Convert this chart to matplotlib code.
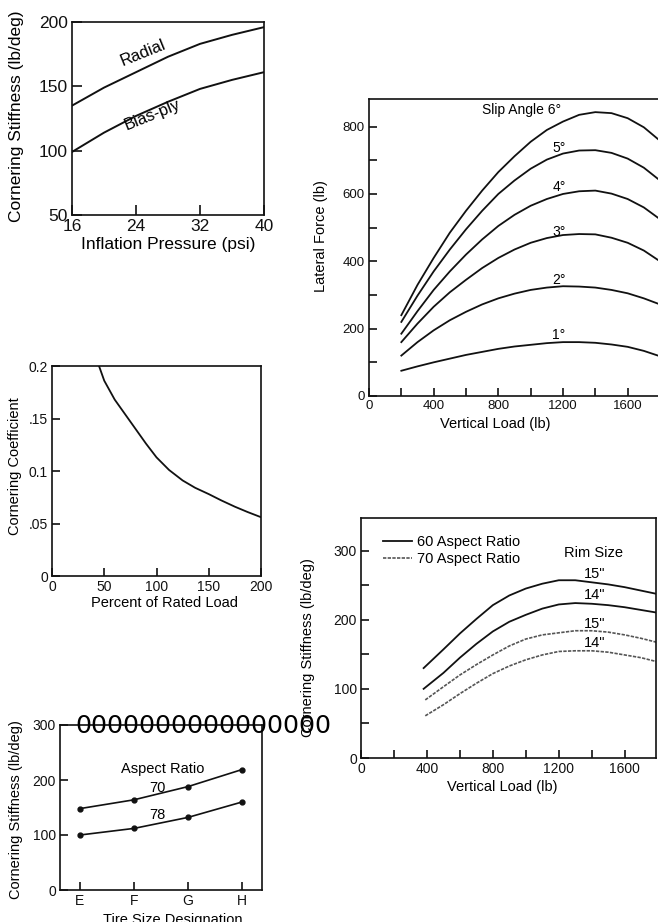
import numpy as np
import matplotlib.pyplot as plt
from matplotlib.ticker import MultipleLocator

plt.rcParams['font.family'] = ['Liberation Sans', 'DejaVu Sans']

INK = '#111111'

# --- panel 1: cornering stiffness vs inflation pressure
pressure = [16, 20, 24, 28, 32, 36, 40]
radial = [135, 149, 161, 173, 183, 190, 196]
bias_ply = [99, 114, 127, 138, 148, 155, 161]

# --- panel 2: lateral force vs vertical load, per slip angle
load_lf = [200, 300, 400, 500, 600, 700, 800, 900, 1000, 1100, 1200,
           1300, 1400, 1500, 1600, 1700, 1800]
slip_labels = ['1°', '2°', '3°', '4°', '5°', '6°']
lateral_force = [
    [75, 88, 100, 111, 122, 131, 140, 147, 152, 157, 160, 160, 158, 153, 146, 134, 118],
    [120, 160, 195, 225, 250, 272, 290, 304, 315, 322, 326, 325, 322, 315, 305, 290, 272],
    [160, 215, 265, 308, 345, 380, 410, 435, 455, 469, 478, 481, 480, 470, 455, 432, 400],
    [185, 252, 315, 370, 420, 465, 505, 538, 565, 585, 600, 608, 610, 601, 585, 560, 525],
    [220, 298, 370, 435, 495, 550, 600, 640, 675, 702, 720, 729, 730, 722, 705, 678, 640],
    [240, 330, 410, 485, 550, 610, 665, 712, 755, 790, 815, 835, 843, 840, 825, 798, 758],
]
slip_label_y = [181, 345, 488, 621, 737]

# --- panel 3: cornering coefficient vs percent rated load
pct_load = [45, 50, 55, 60, 70, 80, 90, 100, 112, 125, 137, 150, 162, 175, 187, 200]
corner_coef = [0.2, 0.186, 0.177, 0.168, 0.154, 0.140, 0.126, 0.113, 0.101,
               0.091, 0.084, 0.078, 0.072, 0.066, 0.061, 0.056]

# --- panel 4: cornering stiffness vs vertical load, aspect ratio / rim size
load_cs60 = [380, 500, 600, 700, 800, 900, 1000, 1100, 1200, 1300, 1400, 1500, 1600, 1700, 1800]
load_cs70 = [390, 500, 600, 700, 800, 900, 1000, 1100, 1200, 1300, 1400, 1500, 1600, 1700, 1800]
ar60_rim15 = [130, 157, 180, 201, 221, 235, 245, 252, 257, 257, 254, 251, 247, 242, 237]
ar60_rim14 = [100, 123, 145, 165, 183, 197, 207, 216, 222, 224, 223, 221, 218, 214, 210]
ar70_rim15 = [84, 103, 120, 135, 149, 162, 172, 178, 181, 184, 184, 182, 178, 173, 167]
ar70_rim14 = [61, 77, 93, 108, 122, 133, 142, 149, 154, 155, 155, 153, 149, 145, 139]
rim_labels = ['15"', '14"', '15"', '14"']
rim_label_y = [266, 236, 194, 166]

# --- panel 5: cornering stiffness vs tire size designation
sizes = ['E', 'F', 'G', 'H']
ar70 = [148, 164, 188, 219]
ar78 = [100, 112, 132, 160]

W, H = 658, 922
fig = plt.figure(figsize=(W / 100, H / 100), dpi=100)


def add_ax(left, top, right, bottom):
    return fig.add_axes([left / W, 1 - bottom / H, (right - left) / W, (bottom - top) / H])


def style(ax, fs, length=6):
    for s in ax.spines.values():
        s.set_linewidth(1.2)
        s.set_color(INK)
    ax.tick_params(direction='in', length=length, width=1.2, labelsize=fs,
                   colors=INK, pad=3, which='both', top=False, right=False)


# panel 1
ax1 = add_ax(72, 22, 264, 215)
ax1.plot(pressure, radial, color=INK, lw=1.4)
ax1.plot(pressure, bias_ply, color=INK, lw=1.4)
ax1.set_xlim(16, 40)
ax1.set_ylim(50, 200)
ax1.set_xticks([16, 24, 32, 40])
ax1.set_yticks([50, 100, 150, 200])
style(ax1, 12.5, 7)
ax1.text(24.9, 176, 'Radial', fontsize=12, rotation=22, ha='center', va='center')
ax1.text(26.0, 128, 'Bias-ply', fontsize=12, rotation=22, ha='center', va='center')
ax1.set_xlabel('Inflation Pressure (psi)', fontsize=12.5)
ax1.set_ylabel('Cornering Stiffness (lb/deg)', fontsize=12.5)
ax1.xaxis.set_label_coords(0.5, -0.115)
ax1.yaxis.set_label_coords(-0.25, 0.51)

# panel 2
ax2 = add_ax(369, 99, 660, 396)
for vals in lateral_force:
    ax2.plot(load_lf, vals, color=INK, lw=1.3)
ax2.set_xlim(0, 1800)
ax2.set_ylim(0, 882)
ax2.xaxis.set_major_locator(MultipleLocator(400))
ax2.xaxis.set_minor_locator(MultipleLocator(200))
ax2.yaxis.set_major_locator(MultipleLocator(200))
ax2.yaxis.set_minor_locator(MultipleLocator(100))
ax2.set_xticks([0, 400, 800, 1200, 1600])
style(ax2, 9.5)
ax2.spines['right'].set_visible(False)
ax2.text(700, 848, 'Slip Angle 6°', fontsize=10, ha='left', va='center')
for lab, y in zip(slip_labels[:5], slip_label_y):
    ax2.text(1175, y, lab, fontsize=10, ha='center', va='center')
ax2.set_xlabel('Vertical Load (lb)', fontsize=10.5)
ax2.set_ylabel('Lateral Force (lb)', fontsize=10.5)
ax2.xaxis.set_label_coords(0.433, -0.072)
ax2.yaxis.set_label_coords(-0.142, 0.54)

# panel 3
ax3 = add_ax(52, 366, 261, 576)
ax3.plot(pct_load, corner_coef, color=INK, lw=1.3)
ax3.set_xlim(0, 200)
ax3.set_ylim(0, 0.2)
ax3.set_xticks([0, 50, 100, 150, 200])
ax3.set_yticks([0, 0.05, 0.1, 0.15, 0.2])
ax3.set_yticklabels(['0', '.05', '0.1', '.15', '0.2'])
style(ax3, 10)
ax3.set_xlabel('Percent of Rated Load', fontsize=10.5)
ax3.set_ylabel('Cornering Coefficient', fontsize=10.5)
ax3.xaxis.set_label_coords(0.538, -0.093)
ax3.yaxis.set_label_coords(-0.142, 0.524)

# panel 4
ax4 = add_ax(361, 518, 656, 758)
ax4.plot(load_cs60, ar60_rim15, color=INK, lw=1.3, label='60 Aspect Ratio')
ax4.plot(load_cs60, ar60_rim14, color=INK, lw=1.3)
ax4.plot(load_cs70, ar70_rim15, color='#555555', lw=1.2, ls=(0, (2, 0.8)), label='70 Aspect Ratio')
ax4.plot(load_cs70, ar70_rim14, color='#555555', lw=1.2, ls=(0, (2, 0.8)))
ax4.set_xlim(0, 1790)
ax4.set_ylim(0, 347)
ax4.set_xticks([0, 400, 800, 1200, 1600])
ax4.xaxis.set_minor_locator(MultipleLocator(200))
ax4.yaxis.set_major_locator(MultipleLocator(100))
ax4.yaxis.set_minor_locator(MultipleLocator(50))
style(ax4, 10)
ax4.legend(loc='upper left', bbox_to_anchor=(0.075, 0.93), frameon=False, fontsize=10.5,
           handlelength=2.0, handletextpad=0.3, labelspacing=0.25, borderpad=0, borderaxespad=0)
ax4.text(1412, 297, 'Rim Size', fontsize=10.5, ha='center', va='center')
for lab, y in zip(rim_labels, rim_label_y):
    ax4.text(1418, y, lab, fontsize=10.5, ha='center', va='center')
ax4.set_xlabel('Vertical Load (lb)', fontsize=10.5)
ax4.set_ylabel('Cornering Stiffness (lb/deg)', fontsize=10.5)
ax4.xaxis.set_label_coords(0.48, -0.09)
ax4.yaxis.set_label_coords(-0.155, 0.46)

# panel 5
ax5 = add_ax(60, 725, 262, 890)
xpos = np.arange(len(sizes))
ax5.plot(xpos, ar70, color=INK, lw=1.2, marker='o', ms=3.5)
ax5.plot(xpos, ar78, color=INK, lw=1.2, marker='o', ms=3.5)
ax5.set_xlim(-0.37, 3.37)
ax5.set_ylim(0, 300)
ax5.set_xticks(xpos)
ax5.set_xticklabels(sizes)
ax5.set_yticks([0, 100, 200, 300])
style(ax5, 10)
ax5.text(1.54, 220, 'Aspect Ratio', fontsize=10.5, ha='center', va='center')
ax5.text(1.43, 185, '70', fontsize=10.5, ha='center', va='center')
ax5.text(1.43, 136, '78', fontsize=10.5, ha='center', va='center')
ax5.set_xlabel('Tire Size Designation', fontsize=10.5)
ax5.set_ylabel('Cornering Stiffness (lb/deg)', fontsize=10.5)
ax5.xaxis.set_label_coords(0.56, -0.14)
ax5.yaxis.set_label_coords(-0.183, 0.49)

# stray overlay text present in the reference
fig.text(75 / W, 1 - 733 / H, '0000000000000000', fontsize=18.3,
         family='DejaVu Sans', ha='left', va='baseline', color='black')

fig.savefig('out.png', dpi=100)
